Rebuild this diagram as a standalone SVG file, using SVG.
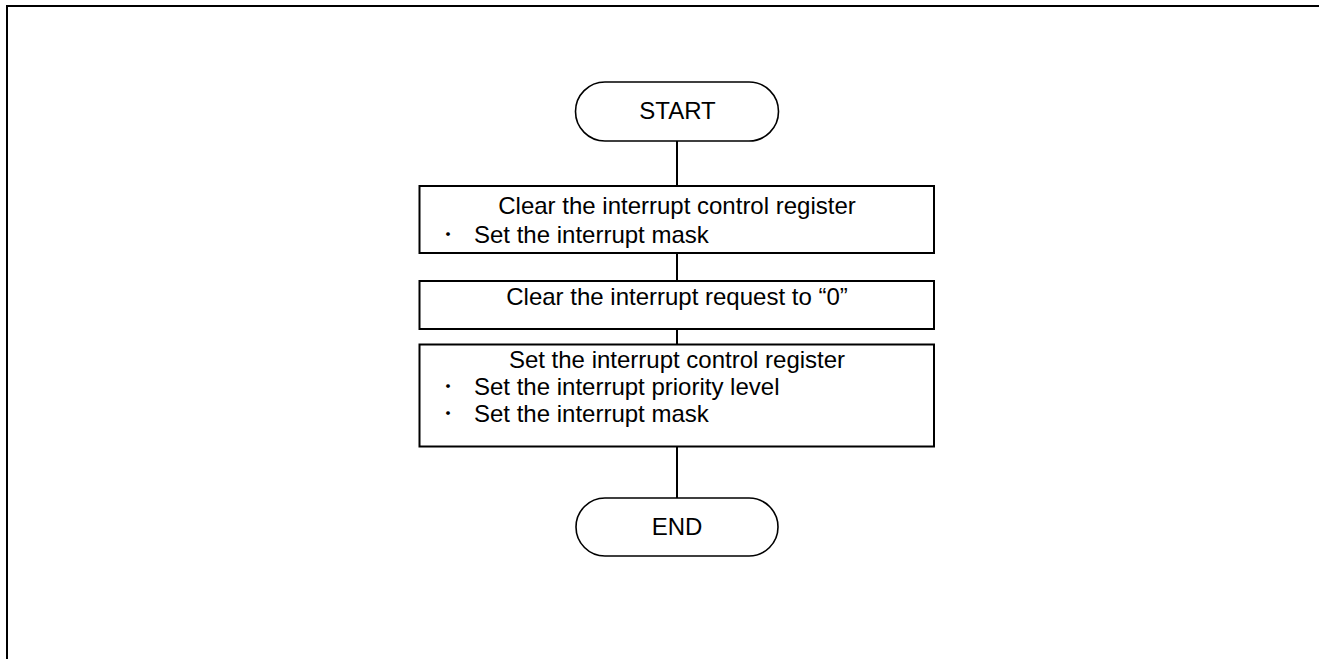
<svg xmlns="http://www.w3.org/2000/svg" width="1319" height="659" viewBox="0 0 1319 659">
<style>
.t{font-family:"Liberation Sans",Arial,sans-serif;font-size:24px;fill:#000}
.c{text-anchor:middle}
.b{font-family:"Noto Sans CJK JP","Liberation Sans",sans-serif;font-size:18px;fill:#000;text-anchor:middle}
.box{fill:#fff;stroke:#000;stroke-width:2}
.term{fill:#fff;stroke:#000;stroke-width:1.6}
.ln{stroke:#000;stroke-width:2;fill:none}
</style>
<rect width="1319" height="659" fill="#fff"/>
<path d="M7,662 V6 H1322" fill="none" stroke="#000" stroke-width="2"/>
<g id="connectors">
<line class="ln" x1="677" y1="141" x2="677" y2="186"/>
<line class="ln" x1="677" y1="253" x2="677" y2="281"/>
<line class="ln" x1="677" y1="329" x2="677" y2="344.5"/>
<line class="ln" x1="677" y1="446.5" x2="677" y2="498"/>
</g>
<g id="start">
<rect class="term" x="575.5" y="82" width="203" height="59" rx="29.5"/>
<text class="t c" x="677.5" y="119">START</text>
</g>
<g id="step1">
<rect class="box" x="419.5" y="186" width="514.5" height="67"/>
<text class="t c" x="677" y="214">Clear the interrupt control register</text>
<text class="b" x="448" y="241">・</text>
<text class="t" x="474" y="243">Set the interrupt mask</text>
</g>
<g id="step2">
<rect class="box" x="419.5" y="281" width="514.5" height="48"/>
<text class="t c" x="677" y="305">Clear the interrupt request to “0”</text>
</g>
<g id="step3">
<rect class="box" x="419.5" y="344.5" width="514.5" height="102"/>
<text class="t c" x="677" y="368">Set the interrupt control register</text>
<text class="b" x="448" y="393">・</text>
<text class="t" x="474" y="395">Set the interrupt priority level</text>
<text class="b" x="448" y="420">・</text>
<text class="t" x="474" y="422">Set the interrupt mask</text>
</g>
<g id="end">
<rect class="term" x="576" y="498" width="202" height="58" rx="29"/>
<text class="t c" x="677" y="535">END</text>
</g>
</svg>
